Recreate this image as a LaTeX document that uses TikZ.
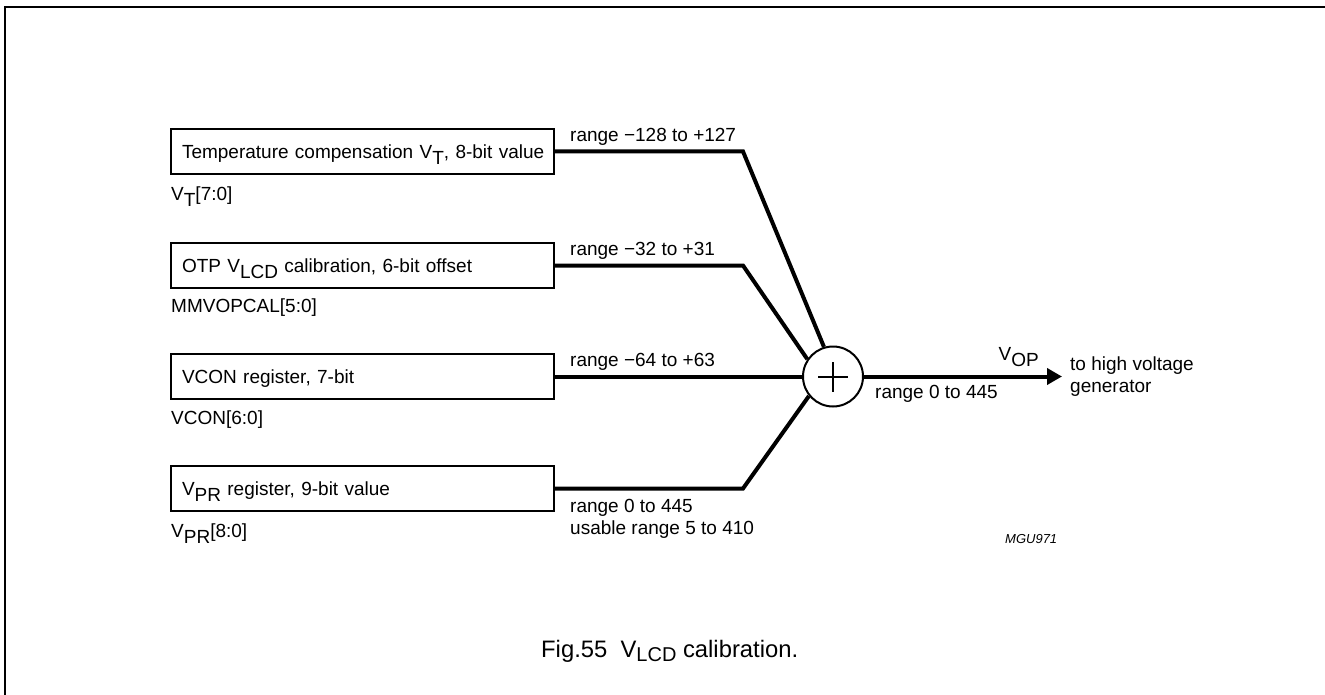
\documentclass[tikz,border=0pt]{standalone}
\usepackage{fontspec}
\setmainfont{Liberation Sans}
\usetikzlibrary{arrows.meta,positioning}
\newcommand{\lowsub}[1]{\raisebox{-6pt}{#1}}

\begin{document}
\begin{tikzpicture}[
            x=1pt, y=-1pt,
            font=\fontsize{19}{22}\selectfont,
            regbox/.style={
                    draw, line width=2pt, anchor=north west, outer sep=0pt,
                    minimum width=383pt, minimum height=45pt,
                    text width=367pt, align=left, inner xsep=8pt, inner ysep=0pt,
                    text height=13.6pt, text depth=0pt
                },
            tag/.style={inner sep=0pt, text height=13.6pt, text depth=0pt},
            wire/.style={line width=4pt},
            sumnode/.style={
                    circle, draw, line width=2pt, fill=white,
                    minimum size=60pt, inner sep=0pt
                }
            ]
            \useasboundingbox (0,0) rectangle (1325,695);
            \draw[line width=2pt] (5,695) -- (5,7) -- (1325,7);

            \node[regbox] (t1) at (171,129)
            {\hspace*{3pt}Temperature compensation V\lowsub{T}, 8-bit value};
            \node[regbox, below=69pt of t1] (t2)
            {\hspace*{3pt}OTP V\lowsub{LCD} calibration, 6-bit offset};
            \node[regbox, below=66pt of t2] (t3) {\hspace*{3pt}VCON register, 7-bit};
            \node[regbox, below=67pt of t3] (t4) {\hspace*{3pt}V\lowsub{PR} register, 9-bit value};

            \node[tag, below right=13pt and 0pt of t1.south west] (n1) {V\lowsub{T}[7:0]};
            \node[tag, below right=11pt and 0pt of t2.south west] (n2) {MMVOPCAL[5:0]};
            \node[tag, below right=12pt and 0pt of t3.south west] (n3) {VCON[6:0]};
            \node[tag, below right=13pt and 0pt of t4.south west] (n4) {V\lowsub{PR}[8:0]};

            \node[sumnode, right=248pt of t3.east] (sum) {};
            \draw[line width=2pt] ([xshift=-15pt]sum.center) -- ([xshift=15pt]sum.center);
            \draw[line width=2pt] ([yshift=-15pt]sum.center) -- ([yshift=15pt]sum.center);

            \coordinate[right=189pt of t1.east] (k1);
            \coordinate[right=189pt of t2.east] (k2);
            \coordinate[right=189pt of t4.east] (k4);
            \coordinate[right=198pt of sum.east] (out);

            \draw[wire] (t1.east) -- (k1) -- (sum.107);
            \draw[wire] (t2.east) -- (k2) -- (sum.146);
            \draw[wire] (t3.east) -- (sum.west);
            \draw[wire] (t4.east) -- (k4) -- (sum.219);
            \draw[wire, -{Triangle[length=15pt, width=16pt]}] (sum.east) -- (out);

            \node[tag, above right=10pt and 16pt of t1.east] (r1) {range −128 to +127};
            \node[tag, above right=10pt and 16pt of t2.east] (r2) {range −32 to +31};
            \node[tag, above right=10pt and 16pt of t3.east] (r3) {range −64 to +63};
            \node[below right=11pt and 16pt of t4.east, align=left, inner sep=0pt]
            (r4) {range 0 to 445\\usable range 5 to 410};

            \node[tag, above left=16pt and 23pt of out] (vop) {V\lowsub{OP}};
            \node[tag, below right=8pt and 11pt of sum.east] (r5) {range 0 to 445};
            \node[right=8pt of out, align=left, inner sep=0pt] (dest)
            {to high voltage\\generator};

            \node[anchor=base west, inner sep=0pt, font=\fontsize{13}{15}\selectfont\itshape]
            (code) at (1005,543) {MGU971};
            \node[anchor=base west, inner sep=0pt, font=\fontsize{23.8}{26}\selectfont]
            (cap) at (541,657)
            {Fig.55\ \ V\raisebox{-4pt}{\fontsize{20}{22}\selectfont LCD} calibration.};
        \end{tikzpicture}
\end{document}
